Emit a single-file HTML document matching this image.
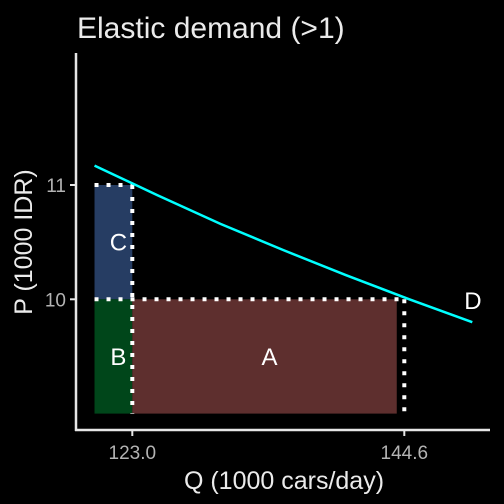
<!DOCTYPE html>
<html><head><meta charset="utf-8"><style>
html,body{margin:0;padding:0;background:#000;}
svg{display:block;font-family:"Liberation Sans",sans-serif;}
</style></head><body>
<svg id="c" width="504" height="504" viewBox="0 0 504 504">
<rect width="504" height="504" fill="#000"/>
<text x="77" y="38" font-size="30" fill="#ebebeb">Elastic demand (&gt;1)</text>
<g id="plot"></g>
</svg>
<script>
const qData = [120,125,130,135,140,145,150];
const pData = [11.17,10.91,10.66,10.43,10.21,10.00,9.80];
const qTicks = [123.0,144.6];
const pTicks = [10,11];
const rectA = {q0:123,q1:144,p0:9,p1:10};
const rectB = {q0:120,q1:123,p0:9,p1:10};
const rectC = {q0:120,q1:123,p0:10,p1:11};
const xs = q => 132.3 + (q-123)*12.593;
const ys = p => 299.3 - (p-10)*114.3;
const NS="http://www.w3.org/2000/svg";
const g=document.getElementById('plot');
function mk(t,a){const e=document.createElementNS(NS,t);for(const k in a)e.setAttribute(k,a[k]);g.appendChild(e);return e;}
function rect(r,fill,name,label){
  const e=mk('rect',{x:xs(r.q0),y:ys(r.p1),width:xs(r.q1)-xs(r.q0),height:ys(r.p0)-ys(r.p1),fill:fill});
  
  
  const t=mk('text',{x:(xs(r.q0)+xs(r.q1))/2+5,y:(ys(r.p0)+ys(r.p1))/2+8.5,'text-anchor':'middle','font-size':24,fill:'#fff'});
  t.textContent=label;
  
  
}
rect(rectC,'#263d63','area-c','C');
rect(rectB,'#00461a','area-b','B');
rect(rectA,'#5e2f2e','area-a','A');
const dot={stroke:'#fff','stroke-width':4,'stroke-dasharray':'4 8'};
function dl(x1,y1,x2,y2,name){const e=mk('line',Object.assign({x1,y1,x2,y2},dot));

}
dl(xs(120),ys(11),xs(123),ys(11),'guide-p11');
dl(xs(123),ys(11),xs(123),ys(9),'guide-q123');
dl(xs(120),ys(10),xs(144.6),ys(10),'guide-p10');
dl(xs(144.6),ys(10),xs(144.6),ys(9),'guide-q1446');
const pl=mk('polyline',{points:qData.map((q,i)=>xs(q)+','+ys(pData[i])).join(' '),fill:'none',stroke:'#00ffff','stroke-width':2.5});


const dlab=mk('text',{x:xs(qData[qData.length-1])-8,y:ys(pData[pData.length-1])-13,'font-size':24,fill:'#fff'});
dlab.textContent='D';


const ya=mk('line',{x1:76,y1:53,x2:76,y2:431,stroke:'#e6e6e6','stroke-width':2.5});


const xa=mk('line',{x1:75,y1:430,x2:490,y2:430,stroke:'#e6e6e6','stroke-width':2.5});


qTicks.forEach(q=>{
  const t=mk('line',{x1:xs(q),y1:430,x2:xs(q),y2:436,stroke:'#e6e6e6','stroke-width':2});
  
  
  const l=mk('text',{x:xs(q),y:459,'text-anchor':'middle','font-size':19,fill:'#b3b3b3'});
  l.textContent=q.toFixed(1);
  
  
});
pTicks.forEach(p=>{
  const t=mk('line',{x1:70,y1:ys(p),x2:76,y2:ys(p),stroke:'#e6e6e6','stroke-width':2});
  
  
  const l=mk('text',{x:66,y:ys(p)+7,'text-anchor':'end','font-size':19,fill:'#b3b3b3'});
  l.textContent=String(p);
  
  
});
const xt=mk('text',{x:284,y:489,'text-anchor':'middle','font-size':25,fill:'#ebebeb'});
xt.textContent='Q (1000 cars/day)';


const yt=mk('text',{x:0,y:0,'text-anchor':'middle','font-size':25,fill:'#ebebeb',transform:'translate(32,242) rotate(-90)'});
yt.textContent='P (1000 IDR)';


</script>
</body></html>
